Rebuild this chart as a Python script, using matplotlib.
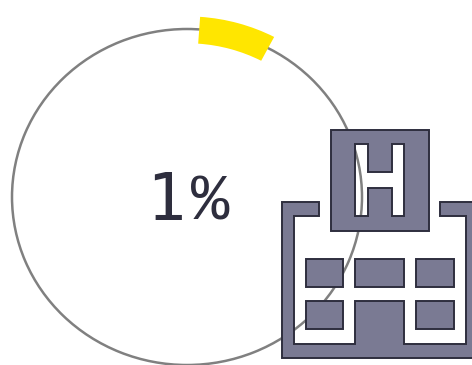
import matplotlib
matplotlib.use("Agg")
import matplotlib.pyplot as plt
from matplotlib.patches import Arc, Wedge, PathPatch
from matplotlib.path import Path
from matplotlib.transforms import Affine2D

porcentaje = 1
arco_inicio = 4      # degrees clockwise from the top
arco_fin = 27.6

# icon outlines in pixels
torre = [(330.7, 130), (428.7, 130), (428.7, 230.7), (330.7, 230.7)]
letra_h = [(355, 143.7), (355, 216.3), (367.7, 216.3), (367.7, 187.7), (391.7, 187.7),
           (391.7, 216.3), (404.3, 216.3), (404.3, 143.7), (391.7, 143.7), (391.7, 172.3),
           (367.7, 172.3), (367.7, 143.7)]
edificio = [(282, 202.3), (319, 202.3), (319, 216.3), (294, 216.3), (294, 344), (355.3, 344),
            (355.3, 301), (404.3, 301), (404.3, 344), (465.7, 344), (465.7, 216.3), (440.3, 216.3),
            (440.3, 202.3), (480, 202.3), (480, 358), (282, 358)]
ventanas = [(306, 259, 343.3, 287.3), (355, 259, 404.3, 287.3), (415.7, 259, 454.3, 287.3),
            (306, 301, 343.3, 329.3), (415.7, 301, 454.3, 329.3)]

color_icono = "#7a7a93"
color_borde = "#2e2e3e"


def forma(puntos, huecos=[]):
    verts = []
    codes = []
    for p in [puntos] + huecos:
        verts += list(p) + [p[0]]
        codes += [Path.MOVETO] + [Path.LINETO] * (len(p) - 1) + [Path.CLOSEPOLY]
    return Path(verts, codes)


fig = plt.figure(figsize=(4.72, 3.65), dpi=100)
ax = fig.add_axes([0, 0, 1, 1])
ax.set_xlim(0, 472)
ax.set_ylim(365, 0)
ax.axis("off")

ax.add_patch(Arc((187, 197), 350, 336, color="#808080", lw=1.8, zorder=1))

escala = Affine2D().scale(175, 168).translate(187, 197) + ax.transData
ax.add_patch(Wedge((0, 0), 1.075, arco_inicio - 90, arco_fin - 90, width=0.16,
                   facecolor="#ffe600", edgecolor="none", transform=escala, zorder=2))

ax.text(166, 220, str(porcentaje), family="DejaVu Sans Mono", fontsize=47, color=color_borde,
        ha="center", va="baseline", zorder=3)
ax.text(210, 220, "%", family="Liberation Mono", fontsize=46, color=color_borde,
        ha="center", va="baseline", zorder=3)

estilo = dict(facecolor=color_icono, edgecolor=color_borde, lw=1.4, zorder=4)
ax.add_patch(PathPatch(forma(torre, [letra_h]), **estilo))
ax.add_patch(PathPatch(forma(edificio), **estilo))
for x0, y0, x1, y1 in ventanas:
    ax.add_patch(PathPatch(forma([(x0, y0), (x1, y0), (x1, y1), (x0, y1)]), **estilo))

fig.savefig("out.png", dpi=100)
